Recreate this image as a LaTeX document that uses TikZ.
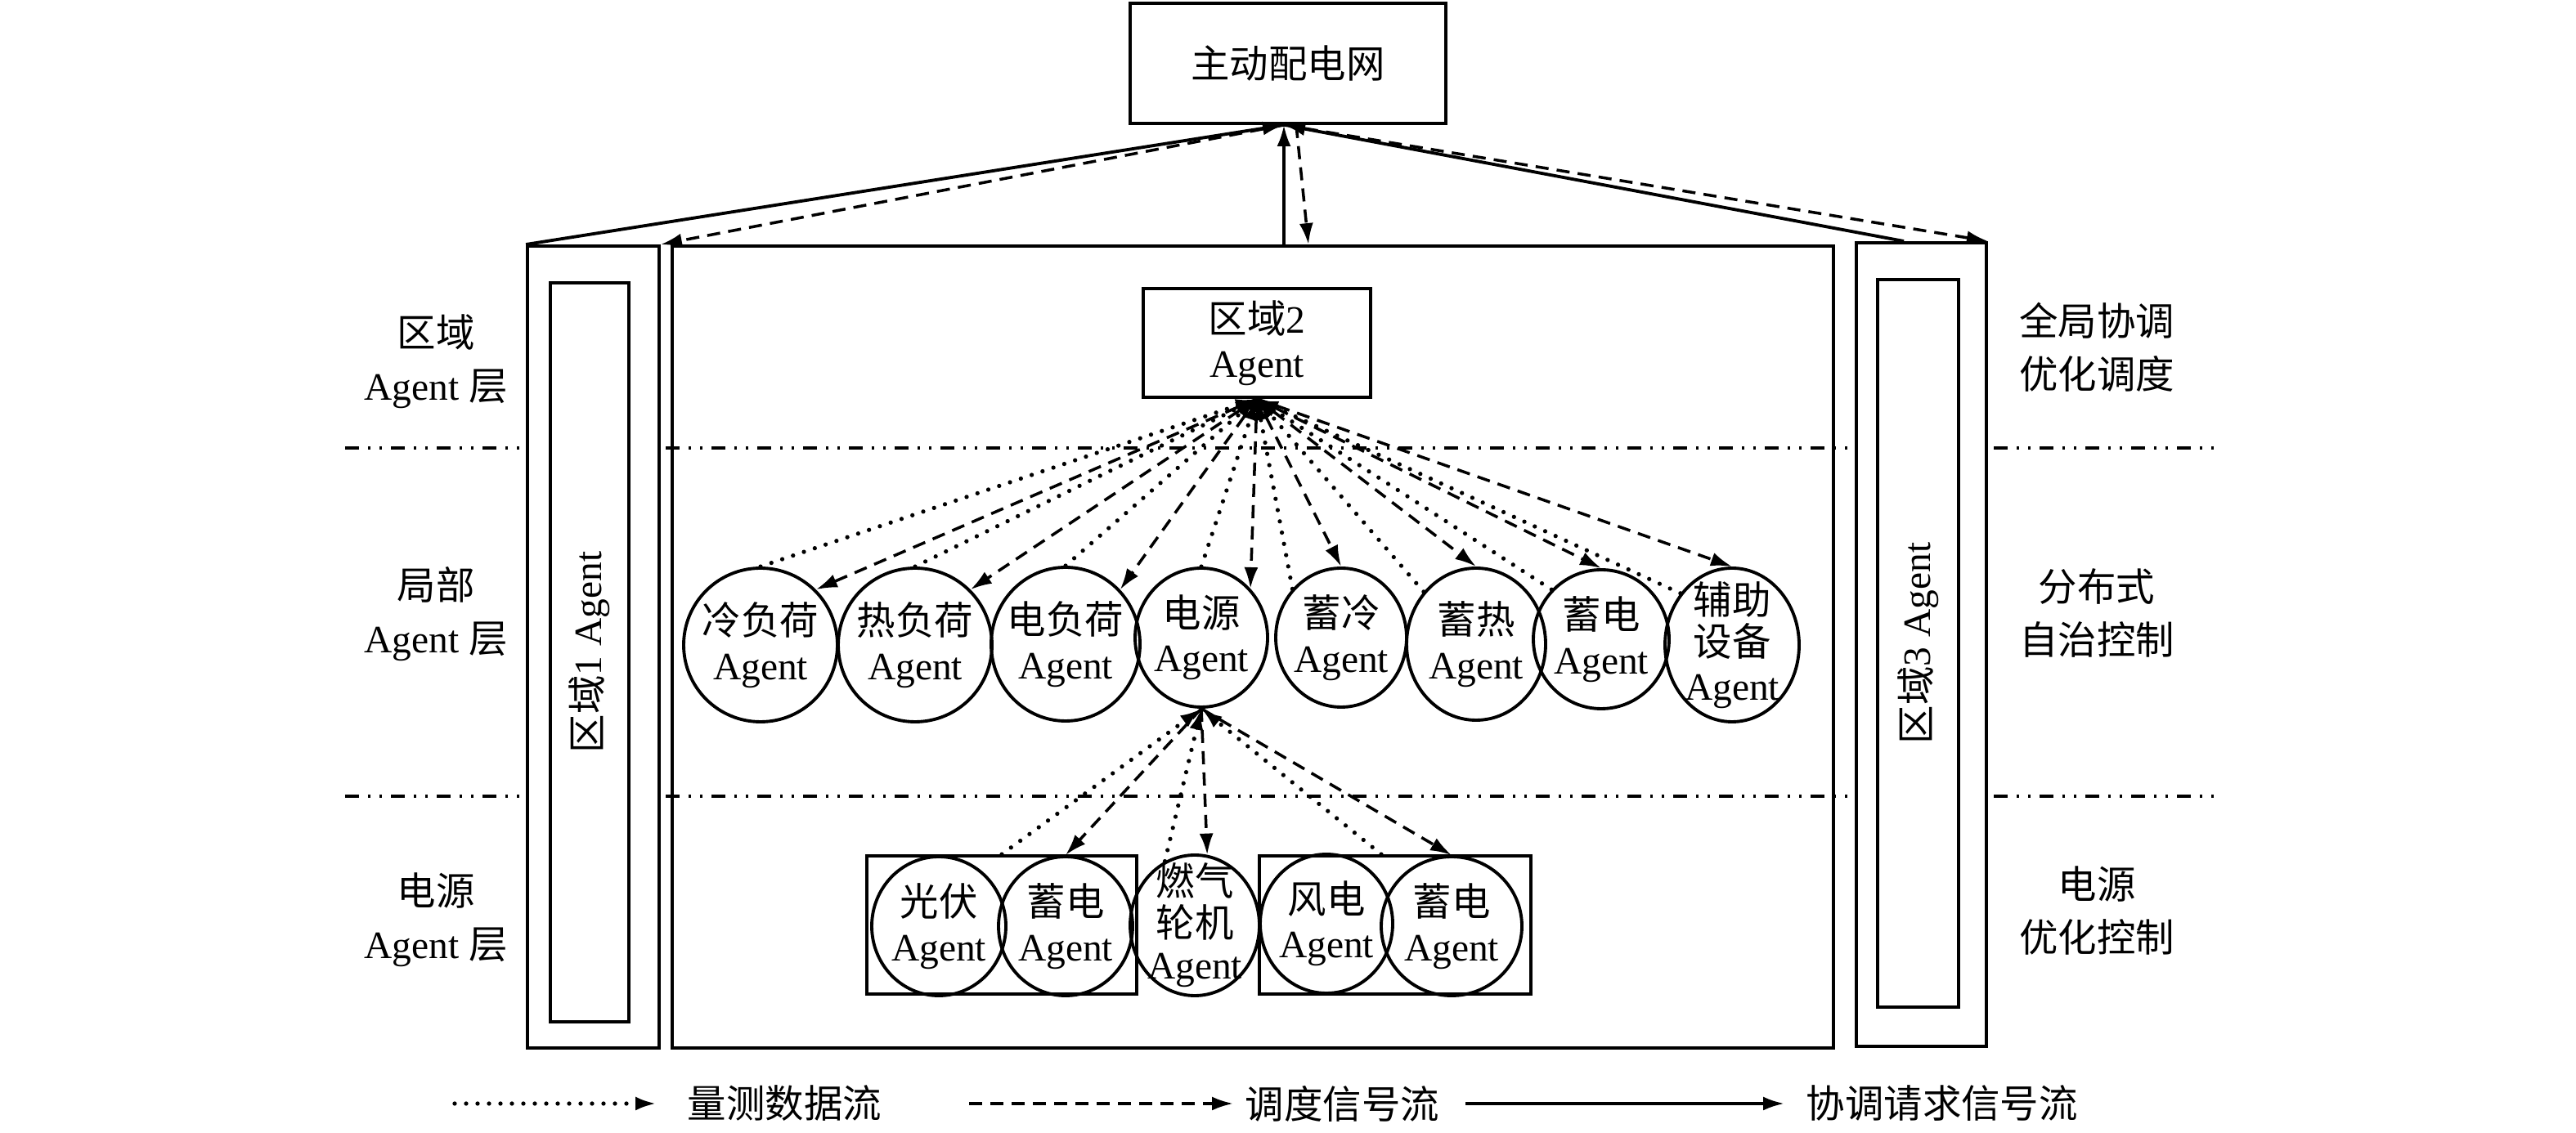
\documentclass[tikz,border=0pt]{standalone}
\usepackage{fontspec}
\setmainfont{Liberation Serif}
\newfontfamily\cjk{Noto Sans CJK SC}
\newcommand\zh[1]{{\cjk #1}}
\usetikzlibrary{shapes.geometric,arrows.meta,calc}

\begin{document}
\begin{tikzpicture}[line join=miter,font=\fontsize{13.5}{15.5}\selectfont,
        box/.style={draw,line width=1.1pt,inner sep=0pt,align=center},
        agent/.style={draw,ellipse,line width=1.1pt,inner sep=0pt},
        lbl/.style={align=center,inner sep=0pt},
        side/.style={align=center,inner sep=0pt,font=\fontsize{13.5}{18.5}\selectfont},
        layer/.style={line width=0.9pt,dash pattern=on 1.7mm off 1.1mm on 0.3mm off 1.1mm on 0.3mm off 1.1mm},
        msr/.style={-{Latex[length=2.6mm,width=1.7mm]},line width=1.5pt,line cap=round,dash pattern=on 0pt off 1.4mm},
        dsp/.style={-{Latex[length=2.6mm,width=1.7mm]},line width=1pt,dash pattern=on 1.6mm off 1mm},
        req/.style={-{Latex[length=2.6mm,width=1.7mm]},line width=1.1pt}]
    \useasboundingbox (0,0) rectangle (31.5,13.86);

    % layer borders
    \draw[layer] (4.22,8.38) -- (27.17,8.38);
    \draw[layer] (4.22,4.12) -- (27.17,4.12);

    \node[box,minimum width=3.86cm,minimum height=1.47cm] (grid) at (15.75,13.085) {\zh{主动配电网}};

    \node[box,fill=white,minimum width=1.61cm,minimum height=9.81cm] (reg1o) at (7.255,5.945) {};
    \node[box,fill=white,minimum width=9.04cm,minimum height=0.96cm,rotate=90] (reg1) at (7.21,5.88) {\zh{区域}1 Agent};
    \node[box,minimum width=14.20cm,minimum height=9.81cm] (reg2area) at (15.32,5.945) {};
    \node[box,fill=white,minimum width=1.59cm,minimum height=9.83cm] (reg3o) at (23.495,5.975) {};
    \node[box,fill=white,minimum width=8.90cm,minimum height=0.99cm,rotate=90] (reg3) at (23.455,5.99) {\zh{区域}3 Agent};
    \node[box,minimum width=2.78cm,minimum height=1.33cm] (reg2) at (15.37,9.665) {\zh{区域}2\\Agent};

    \node[side] (lay1) at (5.33,9.44) {\zh{区域}\\Agent \zh{层}};
    \node[side] (lay2) at (5.33,6.35) {\zh{局部}\\Agent \zh{层}};
    \node[side] (lay3) at (5.33,2.61) {\zh{电源}\\Agent \zh{层}};
    \node[side] (fun1) at (25.64,9.61) {\zh{全局协调}\\\zh{优化调度}};
    \node[side] (fun2) at (25.64,6.36) {\zh{分布式}\\\zh{自治控制}};
    \node[side] (fun3) at (25.64,2.72) {\zh{电源}\\\zh{优化控制}};

    % local agents
    \foreach \n/\x/\y/\w/\h/\txt in {cold/9.30/5.97/1.88/1.88/{\zh{冷负荷}\\Agent},
            heat/11.19/5.97/1.88/1.88/{\zh{热负荷}\\Agent},
            eload/13.03/5.98/1.82/1.88/{\zh{电负荷}\\Agent},
            psrc/14.69/6.06/1.62/1.70/{\zh{电源}\\Agent},
            scold/16.40/6.06/1.60/1.70/{\zh{蓄冷}\\Agent},
            sheat/18.05/5.98/1.70/1.86/{\zh{蓄热}\\Agent},
            selec/19.58/6.04/1.66/1.70/{\zh{蓄电}\\Agent},
            aux/21.18/5.97/1.64/1.88/{\zh{辅助}\\[-1pt]\zh{设备}\\Agent}}{
        \node[agent,minimum width=\w cm,minimum height=\h cm] (\n) at (\x,\y) {};
        \node[lbl] (\n-t) at (\n) {\txt};
    }

    % source agents
    \node[box,minimum width=3.30cm,minimum height=1.69cm] (grpL) at (12.25,2.545) {};
    \node[box,minimum width=3.32cm,minimum height=1.69cm] (grpR) at (17.06,2.545) {};
    \foreach \n/\x/\y/\w/\h/\txt in {pv/11.48/2.53/1.64/1.70/{\zh{光伏}\\Agent},
            pvbat/13.03/2.53/1.64/1.70/{\zh{蓄电}\\Agent},
            gt/14.61/2.54/1.58/1.72/{\zh{燃气}\\[-1pt]\zh{轮机}\\[-1pt]Agent},
            wind/16.22/2.56/1.62/1.70/{\zh{风电}\\Agent},
            wbat/17.75/2.53/1.72/1.70/{\zh{蓄电}\\Agent}}{
        \node[agent,minimum width=\w cm,minimum height=\h cm] (\n) at (\x,\y) {};
        \node[lbl] (\n-t) at (\n) {\txt};
    }

    % region level
    \coordinate (gs) at ([xshift=-0.5mm]grid.south);
    \draw[req] (reg1o.north west) -- (gs);
    \draw[dsp] (gs) -- (reg1o.north east);
    \draw[req] (reg2area.north -| gs) -- (gs);
    \draw[dsp] ([xshift=1mm]grid.south) -- ($(reg2area.north -| gs)+(0.3,0)$);
    \draw[req] ([xshift=6mm]reg3o.north west) -- (gs);
    \draw[dsp] (gs) -- (reg3o.north east);

    \foreach \n in {cold,heat,eload,psrc}{
        \draw[msr] (\n.north) -- (reg2.south);
        \draw[dsp] (reg2.south) -- (\n.45);
    }
    \foreach \n in {scold,sheat,selec,aux}{
        \draw[msr] (\n.135) -- (reg2.south);
        \draw[dsp] (reg2.south) -- (\n.north);
    }

    \draw[msr] (grpL.north) -- (psrc.south);
    \draw[dsp] (psrc.south) -- (pvbat.north);
    \draw[msr] (gt.115) -- (psrc.south);
    \draw[dsp] (psrc.south) -- (gt.80);
    \draw[msr] ([xshift=-1.7mm]grpR.north) -- (psrc.south);
    \draw[dsp] (psrc.south) -- (wbat.north);

    % legend
    \coordinate (m0) at (5.56,0.36);
    \node[lbl,anchor=west] (mtxt) at (8.40,0.36) {\zh{量测数据流}};
    \draw[msr] (m0) -- ([xshift=-3.7mm]mtxt.west);
    \coordinate (d0) at (11.85,0.36);
    \node[lbl,anchor=west] (dtxt) at (15.22,0.36) {\zh{调度信号流}};
    \draw[dsp] (d0) -- ([xshift=-1.4mm]dtxt.west);
    \coordinate (r0) at (17.92,0.36);
    \node[lbl,anchor=west] (rtxt) at (22.08,0.36) {\zh{协调请求信号流}};
    \draw[req] (r0) -- ([xshift=-2.6mm]rtxt.west);
\end{tikzpicture}
\end{document}
